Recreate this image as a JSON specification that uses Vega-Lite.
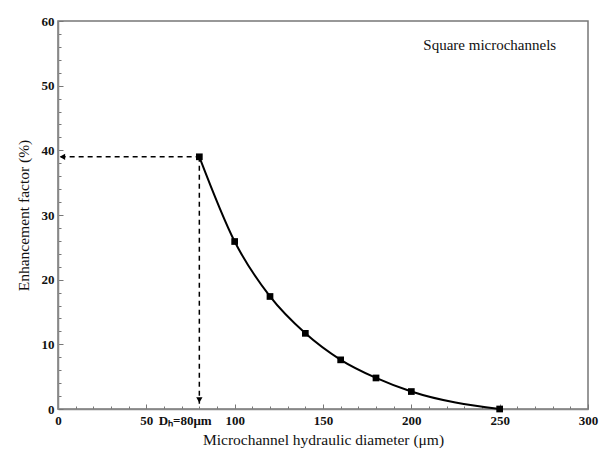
{
  "$schema": "https://vega.github.io/schema/vega-lite/v6.json",
  "autosize": "none",
  "width": 530,
  "height": 388,
  "padding": {"left": 58, "top": 21, "right": 12, "bottom": 41},
  "background": "white",
  "config": {
    "font": "Liberation Serif",
    "view": {"stroke": "#777", "strokeWidth": 1.5},
    "axis": {"grid": false, "labelFont": "Liberation Serif", "titleFont": "Liberation Serif", "labelColor": "#111", "titleColor": "#111", "domainColor": "#888", "domainWidth": 1.5, "tickColor": "#777", "tickWidth": 1, "labelFontSize": 13, "labelFontWeight": "bold", "titleFontSize": 15.5, "titleFontWeight": "normal"}
  },
  "datasets": {
    "curve": [
      {"d": 80, "e": 39.0},
      {"d": 100, "e": 25.9},
      {"d": 120, "e": 17.4},
      {"d": 140, "e": 11.7},
      {"d": 160, "e": 7.6},
      {"d": 180, "e": 4.8},
      {"d": 200, "e": 2.7},
      {"d": 250, "e": 0.0}
    ],
    "hArrow": [
      {"d": 80, "e": 39.0},
      {"d": 1.5, "e": 39.0}
    ],
    "vArrow": [
      {"d": 80, "e": 39.0},
      {"d": 80, "e": 0.8}
    ],
    "heads": [
      {"d": 2.5, "e": 39.0, "shape": "triangle-left"},
      {"d": 80, "e": 1.4, "shape": "triangle-down"}
    ],
    "labels": [
      {"d": 282, "e": 56.3, "text": "Square microchannels"}
    ],
    "dlabel": [
      {"d": 72, "e": 0, "text": "Dₕ=80μm"}
    ]
  },
  "layer": [
    {
      "data": {"name": "curve"},
      "mark": {"type": "line", "interpolate": "monotone", "color": "black", "strokeWidth": 2},
      "encoding": {
        "x": {"field": "d", "type": "quantitative", "scale": {"domain": [0, 300], "nice": false},
          "axis": {"values": [0, 10, 20, 30, 40, 50, 60, 70, 80, 90, 100, 110, 120, 130, 140, 150, 160, 170, 180, 190, 200, 210, 220, 230, 240, 250, 260, 270, 280, 290, 300],
            "tickCount": 200, "format": "d",
            "labelExpr": "datum.value % 50 === 0 ? datum.label : ''",
            "labelOverlap": false, "labelFlush": false, "labelBound": false,
            "tickSize": {"condition": {"test": "datum.value % 50 === 0", "value": -5}, "value": -3},
            "labelPadding": 10, "title": "Microchannel hydraulic diameter (μm)", "titlePadding": 3}},
        "y": {"field": "e", "type": "quantitative", "scale": {"domain": [0, 60], "nice": false},
          "axis": {"values": [0, 2, 4, 6, 8, 10, 12, 14, 16, 18, 20, 22, 24, 26, 28, 30, 32, 34, 36, 38, 40, 42, 44, 46, 48, 50, 52, 54, 56, 58, 60],
            "tickCount": 200, "format": "d",
            "labelExpr": "datum.value % 10 === 0 ? datum.label : ''",
            "labelOverlap": false, "labelFlush": false, "labelBound": false,
            "tickSize": {"condition": {"test": "datum.value % 10 === 0", "value": -5}, "value": -3},
            "labelPadding": 9, "title": "Enhancement factor (%)", "titlePadding": 10}}
      }
    },
    {
      "data": {"name": "curve"},
      "mark": {"type": "point", "shape": "square", "filled": true, "color": "black", "size": 45, "opacity": 1},
      "encoding": {
        "x": {"field": "d", "type": "quantitative"},
        "y": {"field": "e", "type": "quantitative"}
      }
    },
    {
      "data": {"name": "hArrow"},
      "mark": {"type": "line", "color": "black", "strokeWidth": 1.5, "strokeDash": [5, 4]},
      "encoding": {
        "x": {"field": "d", "type": "quantitative"},
        "y": {"field": "e", "type": "quantitative"}
      }
    },
    {
      "data": {"name": "vArrow"},
      "mark": {"type": "line", "color": "black", "strokeWidth": 1.5, "strokeDash": [5, 4]},
      "encoding": {
        "x": {"field": "d", "type": "quantitative"},
        "y": {"field": "e", "type": "quantitative"}
      }
    },
    {
      "data": {"name": "heads"},
      "mark": {"type": "point", "filled": true, "color": "black", "size": 40, "opacity": 1},
      "encoding": {
        "x": {"field": "d", "type": "quantitative"},
        "y": {"field": "e", "type": "quantitative"},
        "shape": {"field": "shape", "type": "nominal", "scale": null}
      }
    },
    {
      "data": {"name": "labels"},
      "mark": {"type": "text", "align": "right", "baseline": "middle", "fontSize": 15, "font": "Liberation Serif", "color": "#111"},
      "encoding": {
        "x": {"field": "d", "type": "quantitative"},
        "y": {"field": "e", "type": "quantitative"},
        "text": {"field": "text"}
      }
    },
    {
      "data": {"name": "dlabel"},
      "mark": {"type": "text", "align": "center", "baseline": "top", "dy": 6, "fontSize": 13, "fontWeight": "bold", "font": "Liberation Serif", "color": "#111"},
      "encoding": {
        "x": {"field": "d", "type": "quantitative"},
        "y": {"field": "e", "type": "quantitative"},
        "text": {"field": "text"}
      }
    }
  ]
}
